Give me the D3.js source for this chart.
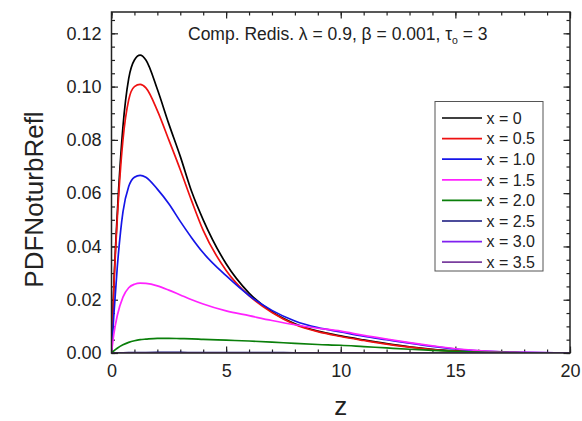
<!DOCTYPE html>
<html>
<head>
<meta charset="utf-8">
<script src="https://cdn.jsdelivr.net/npm/d3@7"></script>
<style>
    body { margin: 0; background: #fff; }
    svg { font-family: "Liberation Sans", Arial, sans-serif; }
</style>
</head>
<body>
<div id="chart"></div>
<script>
// values
var zValues = [0, 0.1, 0.25, 0.5, 0.75, 1, 1.25, 1.5, 2, 2.5, 3, 3.5, 4, 5, 6, 7, 8, 9, 10, 11, 12, 13, 14, 15, 16, 17, 18, 20];

var pdfX00 = [0, 0.025, 0.052, 0.085, 0.103, 0.110, 0.1118, 0.110, 0.099, 0.086, 0.0738, 0.0605, 0.050, 0.0335, 0.0225, 0.0155, 0.0110, 0.0082, 0.0064, 0.0049, 0.0035, 0.0023, 0.0014, 0.0008, 0.0004, 0.0002, 0.0001, 0];
var pdfX05 = [0, 0.024, 0.050, 0.080, 0.095, 0.100, 0.1008, 0.0995, 0.091, 0.080, 0.0688, 0.057, 0.046, 0.031, 0.0215, 0.0152, 0.0107, 0.0080, 0.0062, 0.0047, 0.0033, 0.0022, 0.0013, 0.0007, 0.0004, 0.0002, 0.0001, 0];
var pdfX10 = [0, 0.014, 0.032, 0.053, 0.0625, 0.066, 0.0667, 0.0660, 0.0615, 0.056, 0.0494, 0.0432, 0.0376, 0.0290, 0.0216, 0.0160, 0.0120, 0.0095, 0.0079, 0.0063, 0.0050, 0.0037, 0.0025, 0.0015, 0.0008, 0.0004, 0.0002, 0];
var pdfX15 = [0, 0.007, 0.014, 0.021, 0.0245, 0.0258, 0.0262, 0.0261, 0.0252, 0.0236, 0.0218, 0.0200, 0.0184, 0.0158, 0.0140, 0.0122, 0.0106, 0.0093, 0.0082, 0.0066, 0.0052, 0.0039, 0.0027, 0.0016, 0.0009, 0.0004, 0.0002, 0];
var pdfX20 = [0, 0.0008, 0.0018, 0.0031, 0.0040, 0.0046, 0.0050, 0.0052, 0.0055, 0.0055, 0.0054, 0.0053, 0.0051, 0.0048, 0.0045, 0.0041, 0.0036, 0.0032, 0.0029, 0.0024, 0.0019, 0.0014, 0.0010, 0.0006, 0.0003, 0.0002, 0.0001, 0];
var pdfX25 = [0, 0.00003, 0.00006, 0.0001, 0.00014, 0.00016, 0.00018, 0.00019, 0.0002, 0.0002, 0.0002, 0.00019, 0.00018, 0.00016, 0.00014, 0.00012, 0.0001, 0.00008, 0.00007, 0.00006, 0.00005, 0.00004, 0.00003, 0.00002, 0.00001, 0, 0, 0];
var pdfX30 = [0, 0, 0, 0.00001, 0.00001, 0.00001, 0.00001, 0.00001, 0.00001, 0.00001, 0.00001, 0.00001, 0.00001, 0.00001, 0.00001, 0, 0, 0, 0, 0, 0, 0, 0, 0, 0, 0, 0, 0];
var pdfX35 = [0, 0, 0, 0, 0, 0, 0, 0, 0, 0, 0, 0, 0, 0, 0, 0, 0, 0, 0, 0, 0, 0, 0, 0, 0, 0, 0, 0];

var seriesNames = ["x = 0", "x = 0.5", "x = 1.0", "x = 1.5", "x = 2.0", "x = 2.5", "x = 3.0", "x = 3.5"];
var seriesColors = ["#000000", "#ee1111", "#1515e8", "#ff22ff", "#0a7f0a", "#10107a", "#8020f0", "#7a3e9e"];
var seriesData = [pdfX00, pdfX05, pdfX10, pdfX15, pdfX20, pdfX25, pdfX30, pdfX35];

var xTicks = [0, 5, 10, 15, 20];
var yTicks = [0, 0.02, 0.04, 0.06, 0.08, 0.10, 0.12];

// set the dimensions and margins of the graph
var margin = { top: 12, right: 12, bottom: 68, left: 111.5 },
    width = 582 - margin.left - margin.right,
    height = 421 - margin.top - margin.bottom;

var svg = d3.select("#chart")
    .append("svg")
    .attr("width", 582)
    .attr("height", 421);

var g = svg.append("g")
    .attr("transform", "translate(" + margin.left + "," + margin.top + ")");

var x = d3.scaleLinear().domain([0, 20]).range([0, width]);
var y = d3.scaleLinear().domain([0, 0.128]).range([height, 0]);

// minor ticks, all four sides, pointing in
function minorAxis(axis, scale, step) {
    var ticks = d3.range(scale.domain()[0], scale.domain()[1] + 1e-9, step);
    return axis(scale).tickValues(ticks).tickSize(-3.5).tickFormat("");
}
g.append("g").attr("transform", "translate(0," + height + ")").call(minorAxis(d3.axisBottom, x, 1));
g.append("g").call(minorAxis(d3.axisTop, x, 1));
g.append("g").call(minorAxis(d3.axisLeft, y, 0.005));
g.append("g").attr("transform", "translate(" + width + ",0)").call(minorAxis(d3.axisRight, y, 0.005));

// major ticks
g.append("g")
    .attr("class", "xaxis")
    .attr("transform", "translate(0," + height + ")")
    .call(d3.axisBottom(x).tickValues(xTicks).tickSize(-6.5).tickPadding(11).tickFormat(d3.format("d")));
g.append("g").call(d3.axisTop(x).tickValues(xTicks).tickSize(-6.5).tickFormat(""));
g.append("g")
    .attr("class", "yaxis")
    .call(d3.axisLeft(y).tickValues(yTicks).tickSize(-6.5).tickPadding(10).tickFormat(d3.format(".2f")));
g.append("g").attr("transform", "translate(" + width + ",0)")
    .call(d3.axisRight(y).tickValues(yTicks).tickSize(-6.5).tickFormat(""));

g.selectAll(".domain").remove();
g.selectAll(".tick line").attr("stroke", "#222").attr("stroke-width", 1.2);
g.selectAll(".xaxis text, .yaxis text")
    .attr("font-size", 18)
    .attr("fill", "#222")
    .attr("font-family", "Liberation Sans, Arial, sans-serif");

// curves
g.append("clipPath").attr("id", "plotClip")
    .append("rect").attr("width", width).attr("height", height);

var line = d3.line()
    .x(function (d, i) { return x(zValues[i]); })
    .y(function (d) { return y(d); })
    .curve(d3.curveMonotoneX);

g.append("g").attr("clip-path", "url(#plotClip)")
    .selectAll("path")
    .data(seriesData)
    .enter()
    .append("path")
    .attr("d", line)
    .attr("fill", "none")
    .attr("stroke", function (d, i) { return seriesColors[i]; })
    .attr("stroke-width", 1.7);

// frame
g.append("rect")
    .attr("width", width)
    .attr("height", height)
    .attr("fill", "none")
    .attr("stroke", "#222")
    .attr("stroke-width", 1.5);

// title inside the plot
var title = g.append("text")
    .attr("x", 188 - margin.left)
    .attr("y", 39.5 - margin.top)
    .attr("font-size", 17.5)
    .attr("fill", "#222");
title.append("tspan").text("Comp. Redis. \u03BB = 0.9, \u03B2 = 0.001, \u03C4");
title.append("tspan").attr("font-size", 10.5).attr("dy", 4).text("o");
title.append("tspan").attr("dy", -4).text(" = 3");

// legend
var legend = g.append("g")
    .attr("transform", "translate(" + (435 - margin.left) + "," + (101.5 - margin.top) + ")");
legend.append("rect")
    .attr("width", 108)
    .attr("height", 169.5)
    .attr("fill", "#fff")
    .attr("stroke", "#555")
    .attr("stroke-width", 1);
var rows = legend.selectAll(".row")
    .data(seriesNames)
    .enter()
    .append("g")
    .attr("transform", function (d, i) { return "translate(0," + (16.5 + i * 20.6) + ")"; });
rows.append("line")
    .attr("x1", 7).attr("x2", 47)
    .attr("stroke", function (d, i) { return seriesColors[i]; })
    .attr("stroke-width", 1.7);
rows.append("text")
    .attr("x", 51.5)
    .attr("dy", "0.36em")
    .attr("font-size", 16)
    .attr("fill", "#222")
    .text(function (d) { return d; });

// axis labels
svg.append("text")
    .attr("x", margin.left + width / 2)
    .attr("y", 415)
    .attr("text-anchor", "middle")
    .attr("font-size", 26)
    .attr("fill", "#222")
    .text("z");

svg.append("text")
    .attr("transform", "translate(43," + (margin.top + height / 2 + 17) + ") rotate(-90)")
    .attr("text-anchor", "middle")
    .attr("font-size", 26)
    .attr("fill", "#222")
    .text("PDFNoturbRefl");
</script>
</body>
</html>
